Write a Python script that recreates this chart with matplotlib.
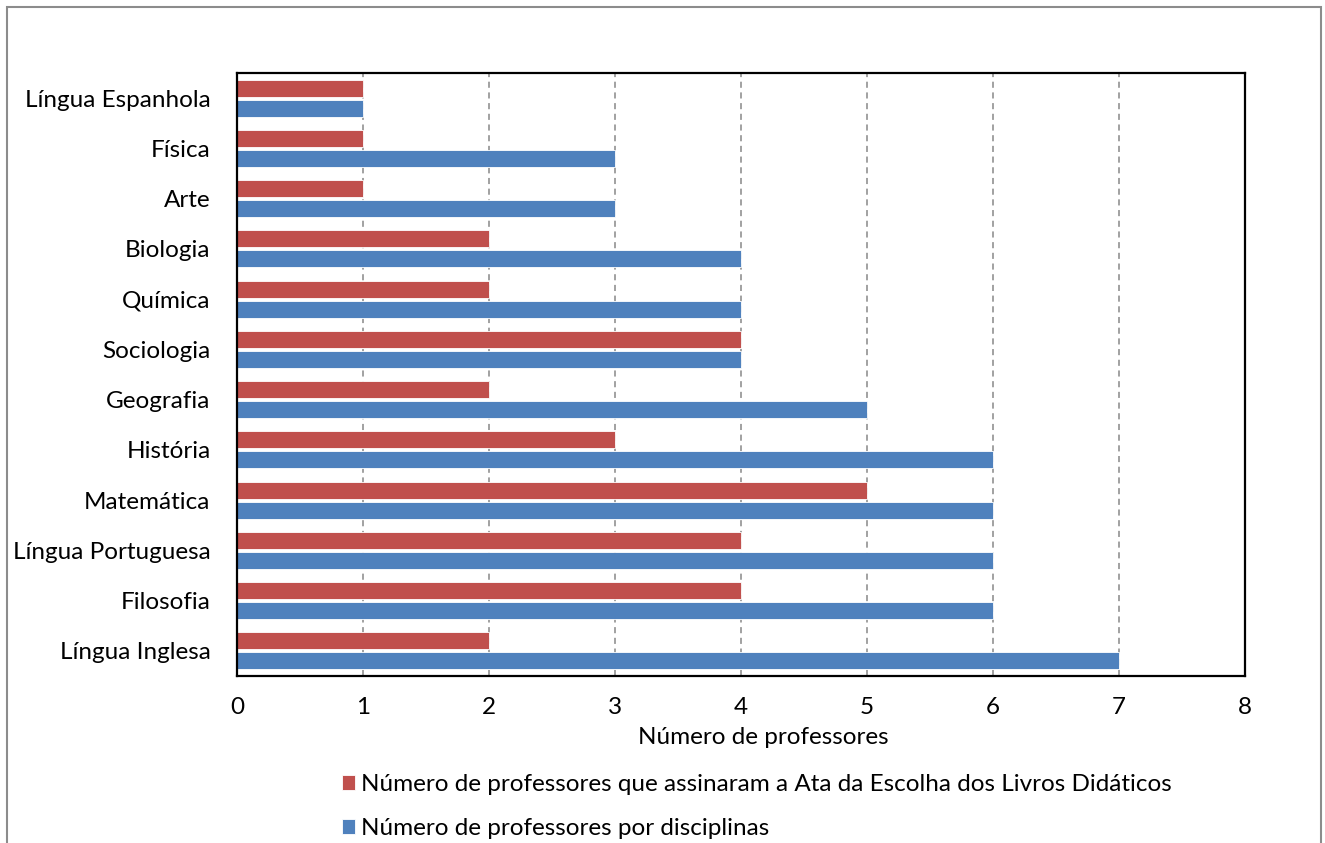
import numpy as np
import matplotlib.pyplot as plt
from matplotlib.patches import Rectangle

plt.rcParams['font.family'] = ['Lato', 'DejaVu Sans']

disciplinas = ['Língua Espanhola', 'Física', 'Arte', 'Biologia', 'Química',
               'Sociologia', 'Geografia', 'História', 'Matemática',
               'Língua Portuguesa', 'Filosofia', 'Língua Inglesa']
assinaram = [1, 1, 1, 2, 2, 4, 2, 3, 5, 4, 4, 2]
por_disciplina = [1, 3, 3, 4, 4, 4, 5, 6, 6, 6, 6, 7]

lbl_assinaram = 'Número de professores que assinaram a Ata da Escolha dos Livros Didáticos'
lbl_disciplina = 'Número de professores por disciplinas'

fs = 17.5

fig = plt.figure(figsize=(13.25, 8.43), dpi=100)
ax = fig.add_axes([237 / 1325, 1 - 676 / 843, 1008 / 1325, 603 / 843])

y = np.arange(len(disciplinas))
h = 0.34
b1 = ax.barh(y - 0.2, assinaram, height=h, color='#C0504D', edgecolor='white',
             linewidth=0.6, zorder=2, label=lbl_assinaram)
b2 = ax.barh(y + 0.2, por_disciplina, height=h, color='#4F81BD', edgecolor='white',
             linewidth=0.6, zorder=2, label=lbl_disciplina)

ax.set_xlim(0, 8)
ax.set_ylim(len(disciplinas) - 0.5, -0.5)
ax.set_xticks(range(9))
ax.set_yticks(y)
ax.set_yticklabels(disciplinas)
ax.tick_params(axis='both', length=0, labelsize=fs)
ax.tick_params(axis='x', pad=15)
ax.tick_params(axis='y', pad=19)
ax.grid(axis='x', color='#888888', linestyle=(0, (4, 3)), linewidth=1.1, zorder=1)
for s in ax.spines.values():
    s.set_linewidth(1.6)
    s.set_color('black')

ax.set_xlabel('Número de professores', fontsize=fs)
ax.xaxis.set_label_coords(0.522, -0.085)

fig.legend(handles=[b1, b2], loc='upper left', bbox_to_anchor=(320 / 1325, 1 - 752 / 843),
           frameon=False, fontsize=fs, handlelength=0.55, handleheight=0.55,
           handletextpad=0.25, labelspacing=0.95)

# outer chart border, cut off at the bottom
fig.patches.append(Rectangle((7 / 1325, -0.1), 1314 / 1325, 1.1 - 7 / 843,
                             transform=fig.transFigure, fill=False,
                             edgecolor='#8c8c8c', linewidth=1.5))

plt.savefig('out.png', dpi=100)
